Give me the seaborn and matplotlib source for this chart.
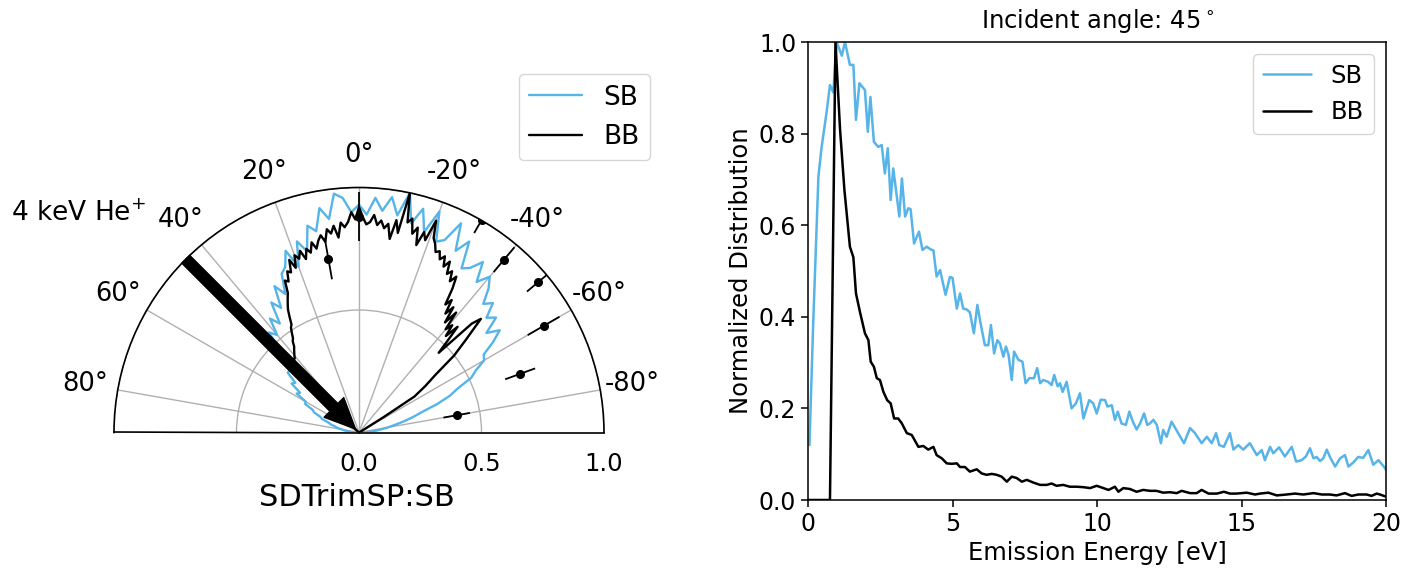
import numpy as np
import matplotlib
matplotlib.use("Agg")
import matplotlib.pyplot as plt
import seaborn as sns

# ---------------- data: polar panel (angular distribution) ----------------
sb_theta = [-90, -88, -86, -84, -82, -80, -78, -76, -74, -72, -70, -68, -66, -64, -62, -60,
            -58, -56, -54, -52, -50, -48, -46, -44, -42, -40, -38, -36, -34, -32, -30, -28,
            -26, -24, -22, -20, -18, -16, -14, -12, -10, -8, -6, -4, -2, 0, 2, 4, 6, 8, 10,
            12, 14, 16, 18, 20, 22, 24, 26, 28, 30, 32, 34, 36, 38, 40, 42, 44, 46, 48, 50,
            52, 54, 56, 58, 60, 62, 64, 66, 68, 70, 72, 74, 76, 78, 80, 82, 84, 86, 88, 90]
sb_r = [0.00, 0.02, 0.04, 0.07, 0.09, 0.12, 0.15, 0.19, 0.23, 0.27, 0.34, 0.40, 0.44, 0.51, 0.54, 0.59,
        0.60, 0.66, 0.71, 0.66, 0.73, 0.70, 0.76, 0.73, 0.79, 0.83, 0.78, 0.86, 0.81, 0.79, 0.90, 0.84,
        0.95, 0.86, 0.84, 0.96, 0.86, 0.95, 0.88, 1.00, 0.90, 0.97, 0.91, 0.96, 0.89, 0.93, 0.90, 0.96, 0.98, 0.88, 0.93,
        0.84, 0.87, 0.77, 0.82, 0.72, 0.80, 0.74, 0.72, 0.64, 0.69, 0.60, 0.64, 0.55, 0.59, 0.52, 0.55, 0.46, 0.44, 0.38, 0.38,
        0.33, 0.34, 0.29, 0.30, 0.25, 0.25, 0.21, 0.20, 0.17, 0.16, 0.13, 0.12, 0.10, 0.09, 0.07, 0.06, 0.04, 0.03, 0.01, 0.00]

bb_theta = [-90, -80, -70, -62, -60, -58, -57, -55, -53, -51, -49, -47, -46, -45, -44, -43, -42, -41,
            -40, -39, -38, -37, -36, -35, -34, -33, -32, -31, -30, -29, -28, -27, -26, -25, -24,
            -23, -22, -21, -20, -19, -18, -17, -16, -15, -14, -13, -12, -11, -10, -9, -8, -7, -6,
            -5, -4, -3, -2, -1, 0, 1, 2, 3, 4, 5, 6, 7, 8, 9, 10, 11, 12, 13, 14, 15, 16, 17, 18,
            19, 20, 21, 22, 23, 24, 25, 26, 27, 28, 29, 30, 31, 32, 33, 34, 35, 36, 37, 38, 39, 40,
            41, 42, 43, 44, 46, 48, 50, 60, 70, 80, 90]
bb_r = [0.00, 0.00, 0.00, 0.00, 0.01, 0.12, 0.27, 0.33, 0.39, 0.50, 0.58, 0.68, 0.64, 0.46, 0.52, 0.59, 0.53, 0.58,
        0.55, 0.63, 0.57, 0.64, 0.60, 0.66, 0.63, 0.70, 0.75, 0.72, 0.76, 0.74, 0.79, 0.76, 0.80, 0.78, 0.81,
        0.80, 0.83, 0.85, 0.92, 0.83, 0.86, 0.80, 0.87, 0.84, 0.90, 0.88, 1.00, 0.83, 0.88, 0.80, 0.86, 0.84, 0.87,
        0.85, 0.89, 0.86, 0.85, 0.88, 0.92, 0.87, 0.90, 0.86, 0.84, 0.86, 0.80, 0.85, 0.82, 0.84, 0.79, 0.82, 0.80, 0.77, 0.80, 0.76, 0.78, 0.74, 0.78,
        0.75, 0.77, 0.72, 0.76, 0.71, 0.72, 0.68, 0.69, 0.64, 0.62, 0.60, 0.58, 0.55, 0.52, 0.51, 0.49, 0.47, 0.46, 0.44, 0.43, 0.42, 0.41,
        0.40, 0.40, 0.37, 0.33, 0.20, 0.06, 0.00, 0.00, 0.00, 0.00, 0.00]

exp_theta = [0, 10, -30, -40, -50, -60, -70, -80]
exp_r = [0.88, 0.72, 1.00, 0.92, 0.955, 0.87, 0.70, 0.405]
exp_err_lo = [0.10, 0.085, 0.06, 0.065, 0.06, 0.075, 0.065, 0.055]
exp_err_hi = [0.10, 0.085, 0.06, 0.067, 0.045, 0.075, 0.065, 0.055]

theta_ticks = [-80, -60, -40, -20, 0, 20, 40, 60, 80]
theta_labels = ['-80°', '-60°', '-40°', '-20°', '0°', '20°', '40°', '60°', '80°']
r_ticks = [0.0, 0.5, 1.0]
r_labels = ['0.0', '0.5', '1.0']
incident_angle = 45

# ---------------- data: energy panel ----------------
E_sb = [0.05, 0.18, 0.36, 0.47, 0.65, 0.76, 0.875, 0.99, 1.17, 1.28, 1.45, 1.57, 1.66, 1.78, 1.97, 2.07,
        2.16, 2.28, 2.43, 2.55, 2.66, 2.76, 2.86, 2.95, 3.16, 3.25, 3.36, 3.47, 3.55, 3.67, 3.84, 3.96,
        4.11, 4.25, 4.34, 4.45, 4.57, 4.76, 4.91, 5.0, 5.15, 5.26, 5.37, 5.49, 5.6, 5.74, 5.86, 5.97,
        6.12, 6.24, 6.33, 6.44, 6.55, 6.64, 6.76, 6.85, 6.94, 7.05, 7.13, 7.28, 7.42, 7.53, 7.66, 7.82,
        7.93, 8.03, 8.14, 8.31, 8.43, 8.52, 8.64, 8.72, 8.81, 8.95, 9.12, 9.27, 9.41, 9.53, 9.73, 9.87,
        9.99, 10.13, 10.28, 10.36, 10.51, 10.62, 10.72, 10.85, 11.0, 11.12, 11.24, 11.37, 11.49, 11.63,
        11.74, 11.83, 11.95, 12.07, 12.21, 12.29, 12.41, 12.58, 12.81, 13.01, 13.22, 13.39, 13.62, 13.8,
        13.97, 14.12, 14.23, 14.39, 14.6, 14.72, 14.89, 15.06, 15.29, 15.53, 15.7, 15.81, 15.99, 16.1,
        16.3, 16.5, 16.74, 16.89, 17.08, 17.23, 17.37, 17.49, 17.6, 17.72, 17.83, 17.95, 18.06, 18.24,
        18.41, 18.58, 18.7, 18.87, 19.04, 19.21, 19.39, 19.56, 19.74, 19.91, 20.0]
v_sb = [0.12, 0.386, 0.706, 0.77, 0.85, 0.906, 0.89, 1.0, 0.97, 1.0, 0.95, 0.95, 0.83, 0.91, 0.895, 0.804,
        0.88, 0.782, 0.771, 0.775, 0.713, 0.768, 0.655, 0.724, 0.619, 0.702, 0.619, 0.637, 0.635, 0.56, 0.586, 0.546,
        0.553, 0.547, 0.545, 0.488, 0.502, 0.448, 0.487, 0.485, 0.418, 0.451, 0.418, 0.416, 0.41, 0.364, 0.426, 0.386,
        0.338, 0.338, 0.382, 0.32, 0.349, 0.342, 0.313, 0.335, 0.317, 0.262, 0.324, 0.306, 0.302, 0.255, 0.266, 0.266,
        0.288, 0.255, 0.262, 0.258, 0.251, 0.273, 0.248, 0.255, 0.236, 0.258, 0.2, 0.211, 0.233, 0.178, 0.218, 0.211,
        0.189, 0.219, 0.218, 0.204, 0.207, 0.175, 0.193, 0.167, 0.164, 0.193, 0.171, 0.154, 0.167, 0.189,
        0.164, 0.167, 0.175, 0.164, 0.124, 0.153, 0.138, 0.171, 0.146, 0.124, 0.157, 0.146, 0.124, 0.138,
        0.124, 0.146, 0.12, 0.116, 0.146, 0.11, 0.12, 0.11, 0.124, 0.098, 0.109, 0.087, 0.116, 0.102,
        0.115, 0.095, 0.116, 0.084, 0.087, 0.095, 0.113, 0.091, 0.094, 0.085, 0.091, 0.11, 0.094, 0.073,
        0.091, 0.098, 0.073, 0.082, 0.094, 0.092, 0.109, 0.077, 0.087, 0.074, 0.066]

E_bb = [0.0, 0.76, 0.95, 1.11, 1.26, 1.45, 1.57, 1.66, 1.8, 1.97, 2.09, 2.17, 2.28, 2.38, 2.49, 2.61,
        2.74, 2.86, 2.98, 3.12, 3.24, 3.42, 3.59, 3.82, 3.99, 4.16, 4.34, 4.45, 4.63, 4.8, 4.97, 5.15,
        5.26, 5.43, 5.6, 5.84, 6.01, 6.18, 6.36, 6.53, 6.7, 6.88, 7.05, 7.22, 7.4, 7.57, 7.8, 8.03,
        8.26, 8.43, 8.6, 8.83, 9.06, 9.3, 9.53, 9.76, 9.99, 10.22, 10.4, 10.62, 10.74, 10.91, 11.14,
        11.37, 11.6, 11.83, 12.06, 12.29, 12.52, 12.76, 12.93, 13.22, 13.45, 13.62, 13.86, 14.15, 14.39,
        14.6, 14.83, 15.18, 15.47, 15.64, 15.93, 16.22, 16.56, 16.85, 17.14, 17.49, 17.78, 18.06, 18.29,
        18.58, 18.81, 19.04, 19.33, 19.5, 19.68, 19.79, 19.97]
v_bb = [0.0, 0.0, 1.0, 0.808, 0.677, 0.553, 0.53, 0.451, 0.41, 0.364, 0.349, 0.302, 0.291, 0.266, 0.262, 0.236,
        0.218, 0.211, 0.178, 0.178, 0.168, 0.146, 0.142, 0.116, 0.118, 0.11, 0.116, 0.098, 0.091, 0.08, 0.079, 0.08,
        0.072, 0.072, 0.062, 0.067, 0.058, 0.055, 0.057, 0.055, 0.051, 0.04, 0.051, 0.048, 0.04, 0.044, 0.038, 0.033,
        0.033, 0.036, 0.031, 0.033, 0.029, 0.029, 0.028, 0.026, 0.031, 0.026, 0.022, 0.029, 0.018, 0.026, 0.024,
        0.018, 0.022, 0.02, 0.02, 0.016, 0.017, 0.015, 0.02, 0.015, 0.015, 0.022, 0.014, 0.014, 0.018,
        0.014, 0.014, 0.016, 0.012, 0.014, 0.016, 0.01, 0.012, 0.014, 0.012, 0.015, 0.012, 0.012, 0.01,
        0.015, 0.009, 0.012, 0.012, 0.009, 0.014, 0.012, 0.008]

x_ticks = [0, 5, 10, 15, 20]
y_ticks = [0.0, 0.2, 0.4, 0.6, 0.8, 1.0]
y_labels = ['0.0', '0.2', '0.4', '0.6', '0.8', '1.0']

SB_COLOR = '#56B4E9'
BB_COLOR = 'black'

# ---------------- style ----------------
sns.set_style('ticks', {'axes.edgecolor': 'black', 'text.color': 'black',
                        'xtick.color': 'black', 'ytick.color': 'black',
                        'axes.labelcolor': 'black'})
plt.rcParams['font.family'] = ['DejaVu Sans']
plt.rcParams['xtick.direction'] = 'out'
plt.rcParams['ytick.direction'] = 'out'

W, H = 1418, 571
fig = plt.figure(figsize=(W / 100, H / 100), dpi=100)

# ---------------- polar panel ----------------
# square box so that the half-disc has radius 245 px, centred at (359, 433)
ax1 = fig.add_axes([114 / W, 1 - 555 / H, 490 / W, 490 / H], projection='polar')
ax1.set_thetamin(-90)
ax1.set_thetamax(90)
ax1.set_theta_zero_location('N')
ax1.set_theta_direction(1)

sns.lineplot(x=np.deg2rad(sb_theta), y=sb_r, ax=ax1, sort=False, estimator=None,
             color=SB_COLOR, lw=1.7, label='SB')
sns.lineplot(x=np.deg2rad(bb_theta), y=bb_r, ax=ax1, sort=False, estimator=None,
             color=BB_COLOR, lw=1.7, label='BB')
ax1.errorbar(np.deg2rad(exp_theta), exp_r, yerr=[exp_err_lo, exp_err_hi], fmt='o',
             color='black', ms=5.5, elinewidth=1.3, capsize=0, zorder=4)

ax1.set_ylim(0, 1.0)
ax1.set_rticks(r_ticks)
ax1.set_yticklabels(r_labels)
ax1.tick_params(axis='y', labelsize=17.5, pad=10.5)
ax1.set_thetagrids(theta_ticks, labels=theta_labels)
ax1.tick_params(axis='x', labelsize=18.5, pad=13)
ax1.grid(True, color='#b0b0b0', lw=1.0)
ax1.set_xlabel('')
ax1.set_ylabel('')
for s in ('polar', 'start', 'end'):
    ax1.spines[s].set_color('black')
    ax1.spines[s].set_linewidth(1.2)

ax1.annotate('', xy=(np.deg2rad(incident_angle), 0.02),
             xytext=(np.deg2rad(incident_angle), 1.0),
             arrowprops=dict(facecolor='black', edgecolor='black', width=8,
                             headwidth=20, headlength=22, shrink=0.0),
             zorder=5)

ax1.legend(loc='upper right', bbox_to_anchor=(650 / W, 1 - 74 / H),
           bbox_transform=fig.transFigure, borderaxespad=0, fontsize=19)

fig.text(11 / W, 1 - 214 / H, '4 keV He$^{+}$', fontsize=19, ha='left', va='center')
fig.text(357 / W, 1 - 497 / H, 'SDTrimSP:SB', fontsize=22, ha='center', va='center')

# ---------------- energy panel ----------------
ax2 = fig.add_axes([808 / W, 1 - 500 / H, 578 / W, 458 / H])
sns.lineplot(x=E_sb, y=v_sb, ax=ax2, color=SB_COLOR, lw=1.8, label='SB',
             sort=False, estimator=None)
sns.lineplot(x=E_bb, y=v_bb, ax=ax2, color=BB_COLOR, lw=1.8, label='BB',
             sort=False, estimator=None)
ax2.set_xlim(0, 20)
ax2.set_ylim(0, 1.0)
ax2.set_xticks(x_ticks)
ax2.set_yticks(y_ticks)
ax2.set_yticklabels(y_labels)
ax2.tick_params(labelsize=17, width=1.1, length=5)
for s in ax2.spines.values():
    s.set_linewidth(1.1)
ax2.set_xlabel('Emission Energy [eV]', fontsize=17.5)
ax2.set_ylabel('Normalized Distribution', fontsize=17.5)
ax2.set_title('Incident angle: %d$^\\circ$' % incident_angle, fontsize=17.5, pad=10)
ax2.legend(loc='upper right', fontsize=17.5)

fig.savefig('out.png', dpi=100)
